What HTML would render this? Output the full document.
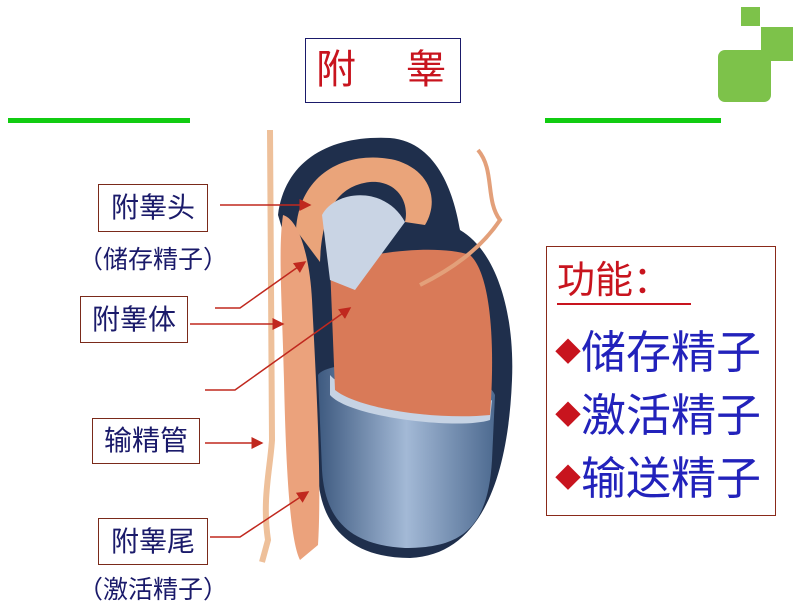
<!DOCTYPE html>
<html><head><meta charset="utf-8"><style>
body{margin:0;width:800px;height:603px;background:#fff;overflow:hidden;position:relative;font-family:"Liberation Sans","Noto Sans CJK SC",sans-serif}
.b{position:absolute;border:1.5px solid #7a2a1a;background:#fff;box-sizing:border-box;color:#1a1a6a;font-size:28px;text-align:center}
.t{position:absolute;color:#1a1a6a;font-size:25px;white-space:nowrap}
.l{position:absolute;left:8px;color:#2222bb;font-size:45px;white-space:nowrap;line-height:50px}
.l span{color:#c8141e;font-size:26px;vertical-align:middle;position:relative;top:-4px}
</style></head><body>
<div style="position:absolute;left:8px;top:118px;width:182px;height:5px;background:#11cc11"></div>
<div style="position:absolute;left:545px;top:118px;width:176px;height:5px;background:#11cc11"></div>
<div style="position:absolute;left:741px;top:7px;width:19px;height:19px;background:#7dc24a"></div>
<div style="position:absolute;left:761px;top:27px;width:32px;height:34px;background:#7dc24a"></div>
<div style="position:absolute;left:718px;top:50px;width:53px;height:52px;background:#7dc24a;border-radius:7px"></div>
<div style="position:absolute;left:305px;top:38px;width:156px;height:65px;border:1.5px solid #1a1a6a;box-sizing:border-box"></div>
<div style="position:absolute;left:316px;top:48px;color:#c8141e;font-size:40px;line-height:44px">附</div>
<div style="position:absolute;left:406px;top:48px;color:#c8141e;font-size:40px;line-height:44px">睾</div>

<svg style="position:absolute;left:0;top:0" width="800" height="603">
<defs>
<linearGradient id="g" x1="0" x2="1"><stop offset="0" stop-color="#3e5a80"/><stop offset=".5" stop-color="#a3b9d6"/><stop offset="1" stop-color="#4d6a90"/></linearGradient>
<marker id="a" markerWidth="8" markerHeight="8" refX="7" refY="4" orient="auto"><path d="M0,0L8,4L0,8z" fill="#c0281e"/></marker>
</defs>
<path d="M278,215 C285,160 330,135 390,138 C440,142 455,200 460,230 C495,250 515,310 512,380 C508,480 480,555 410,558 C345,558 318,520 318,470 L312,330 Z" fill="#1f2f4c"/>
<path d="M318,375 C330,355 480,360 495,395 L492,460 C488,530 460,548 405,548 C350,545 325,520 322,470 Z" fill="url(#g)"/>
<path d="M330,375 C350,400 470,415 492,400 L490,420 C460,430 350,418 330,395Z" fill="#c6d3e4"/>
<path d="M330,265 C380,250 440,245 470,255 C492,275 495,350 490,415 C440,420 360,410 335,390 Z" fill="#d97a58"/>
<path d="M296,230 C300,170 350,150 395,160 C430,170 440,200 425,225 L405,222 C410,200 395,180 370,182 C335,186 322,215 320,262 Z" fill="#eaa47a"/>
<path d="M322,215 C335,190 385,185 405,222 L355,290 L330,280 Z" fill="#c9d4e4"/>
<path d="M283,215 C300,220 310,260 312,300 C316,380 322,480 318,545 L300,560 C290,540 286,470 284,380 C282,300 278,250 283,215 Z" fill="#eba27c"/>
<path d="M270,130 L272,440 C270,470 262,500 268,540 L262,562" stroke="#eec09a" stroke-width="6" fill="none"/>
<path d="M478,150 C495,170 485,200 500,220 C480,250 450,270 420,285" stroke="#e3a07a" stroke-width="4" fill="none"/>
<g stroke="#c0281e" stroke-width="1.5" fill="none" marker-end="url(#a)">
<path d="M220,205 L310,205"/>
<path d="M215,308 L240,308 L305,262"/>
<path d="M190,324 L283,324"/>
<path d="M205,390 L235,390 L350,308"/>
<path d="M205,443 L262,443"/>
<path d="M210,537 L240,537 L308,492"/>
</g>
</svg>

<div class="b" style="left:98px;top:184px;width:110px;height:48px;line-height:46px">附睾头</div>
<div class="t" style="left:78px;top:240px">（储存精子）</div>
<div class="b" style="left:80px;top:296px;width:108px;height:47px;line-height:45px">附睾体</div>
<div class="b" style="left:92px;top:418px;width:108px;height:46px;line-height:44px">输精管</div>
<div class="b" style="left:98px;top:518px;width:110px;height:47px;line-height:45px">附睾尾</div>
<div class="t" style="left:78px;top:570px">（激活精子）</div>

<div style="position:absolute;left:546px;top:246px;width:230px;height:270px;border:1.5px solid #8a2a1a;box-sizing:border-box">
<div style="position:absolute;left:10px;top:12px;color:#c8141e;font-size:38px;border-bottom:2px solid #c8141e;line-height:44px;width:134px">功能：</div>
<div class="l" style="top:81px"><span>◆</span>储存精子</div>
<div class="l" style="top:144px"><span>◆</span>激活精子</div>
<div class="l" style="top:207px"><span>◆</span>输送精子</div>
</div>
</body></html>
